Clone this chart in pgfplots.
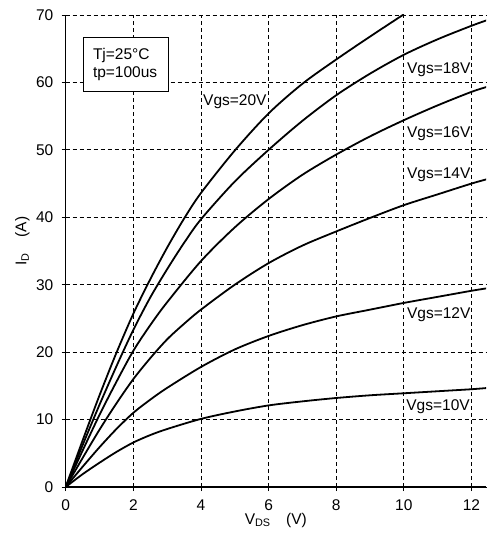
\documentclass[border=0pt]{standalone}
\usepackage{fontspec}
\setmainfont{Liberation Sans}
\usepackage{pgfplots}
\pgfplotsset{compat=1.18}
\pgfplotsset{curve/.style={black, solid, line width=1.8pt, smooth, mark=none}}

\begin{document}
\fontsize{15.5}{18}\selectfont
\begin{tikzpicture}
\begin{axis}[
  name=ax,
  scale only axis,
  width=420.3pt, height=472pt,
  xmin=0, xmax=12.43, ymin=0, ymax=70,
  xtick={0,2,...,12}, ytick={0,10,...,70},
  axis x line=bottom, axis y line=left,
  axis line style={-, line width=1.2pt},
  tick align=outside, major tick length=4pt,
  tick style={black, line width=0.8pt},
  grid=major,
  major grid style={black, line width=0.8pt, dash pattern=on 4pt off 3pt},
  /pgf/number format/assume math mode=true,
  xticklabel style={yshift=-3pt},
  yticklabel style={xshift=-3pt},
  xlabel={V\textsubscript{DS}\quad (V)},
  ylabel={I\textsubscript{D}\quad (A)},
  xlabel style={yshift=8pt},
  ylabel style={yshift=-4pt, xshift=10pt},
  clip=true,
]
% Vgs=10V
\addplot[curve] coordinates {(0,0) (0.5,1.9) (1,3.6) (1.5,5.2) (2,6.6) (2.5,7.7) (3,8.6) (4,10.1) (5,11.2) (6,12.1) (7,12.7) (8,13.2) (9,13.6) (10,13.9) (11,14.2) (12,14.5) (12.5,14.7)};
% Vgs=12V
\addplot[curve] coordinates {(0,0) (0.5,3.0) (1,5.9) (1.5,8.6) (2,11.0) (2.5,12.95) (3,14.7) (4,17.8) (5,20.4) (6,22.4) (7,24.0) (8,25.3) (9,26.3) (10,27.3) (11,28.2) (12,29.1) (12.5,29.5)};
% Vgs=14V
\addplot[curve] coordinates {(0,0) (0.5,4.3) (1,8.5) (1.5,12.4) (2,16.0) (2.5,19.1) (3,21.9) (3.5,24.2) (4,26.3) (5,30.0) (6,33.2) (7,35.8) (8,37.9) (9,39.9) (10,41.8) (11,43.4) (12,45.0) (12.5,45.7)};
% Vgs=16V
\addplot[curve] coordinates {(0,0) (0.5,5.4) (1,10.7) (1.5,15.6) (2,20.2) (2.5,24.0) (3,27.4) (4,33.5) (5,38.5) (6,42.7) (7,46.3) (8,49.3) (9,52.0) (10,54.4) (11,56.6) (12,58.6) (12.5,59.4)};
% Vgs=18V
\addplot[curve] coordinates {(0,0) (0.5,6.2) (1,12.2) (1.5,17.9) (2,23.3) (2.5,28.1) (3,32.3) (3.5,36.2) (4,39.7) (5,45.3) (6,50.0) (7,54.3) (8,58.1) (9,61.3) (10,64.1) (11,66.4) (12,68.4) (12.5,69.3)};
% Vgs=20V
\addplot[curve] coordinates {(0,0) (0.5,6.9) (1,13.6) (1.5,19.9) (2,25.7) (2.5,30.8) (3,35.5) (3.5,39.8) (4,43.6) (5,49.9) (6,55.4) (7,59.8) (8,63.4) (9,66.8) (10,70.1)};

\node[anchor=west, inner sep=0pt] at (axis cs:4.06,57.1) {Vgs=20V};
\node[anchor=west, inner sep=0pt] at (axis cs:10.09,61.9) {Vgs=18V};
\node[anchor=west, inner sep=0pt] at (axis cs:10.09,52.4) {Vgs=16V};
\node[anchor=west, inner sep=0pt] at (axis cs:10.09,46.3) {Vgs=14V};
\node[anchor=west, inner sep=0pt] at (axis cs:10.09,25.5) {Vgs=12V};
\node[anchor=west, inner sep=0pt] at (axis cs:10.07,11.9) {Vgs=10V};
\node[anchor=north west, draw=black, line width=0.8pt, fill=white,
      minimum width=85.6pt, minimum height=54.3pt, inner xsep=10pt,
      text width=65.6pt, align=left] at (axis cs:0.5,66.8)
      {Tj=25°C\\tp=100us};
\end{axis}
\pgfresetboundingbox
\path ([shift={(-65.7pt,-46pt)}]ax.south west) rectangle ([shift={(0pt,15pt)}]ax.north east);
\end{tikzpicture}
\end{document}
